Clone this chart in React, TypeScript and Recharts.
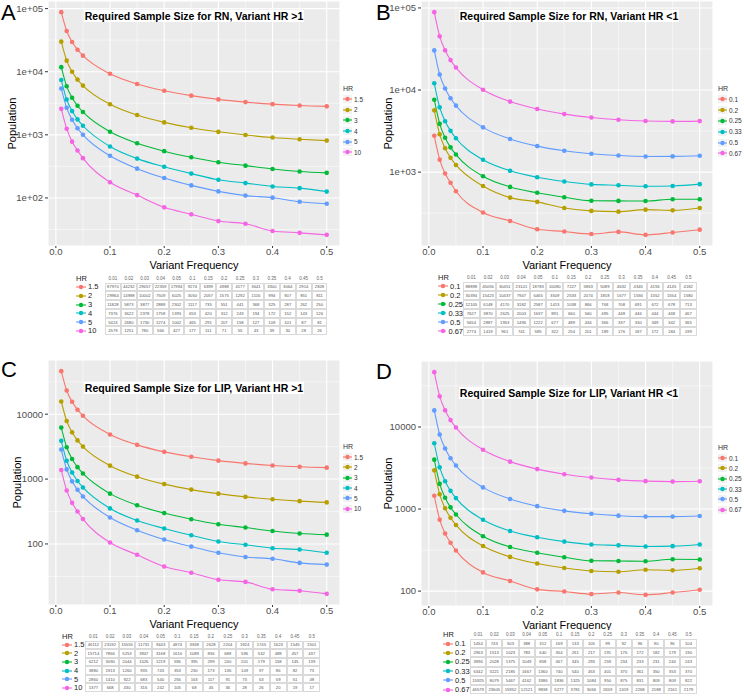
import { LineChart, Line, XAxis, YAxis, CartesianGrid } from "recharts"

const freqs = [0.01, 0.02, 0.03, 0.04, 0.05, 0.1, 0.15, 0.2, 0.25, 0.3, 0.35, 0.4, 0.45, 0.5]
const freqTicks = [0, 0.1, 0.2, 0.3, 0.4, 0.5]
const freqMinor = [0.05, 0.15, 0.25, 0.35, 0.45]
const freqHeader = ["0.01", "0.02", "0.03", "0.04", "0.05", "0.1", "0.15", "0.2", "0.25", "0.3", "0.35", "0.4", "0.45", "0.5"]
const hrHigh = ["1.5", "2", "3", "4", "5", "10"]
const hrLow = ["0.1", "0.2", "0.25", "0.33", "0.5", "0.67"]
const hueColors = ["#F8766D", "#B79F00", "#00BA38", "#00BFC4", "#619CFF", "#F564E3"]

// RN, HR > 1
const rnHigh15 = [87970, 44232, 29657, 22359, 17994, 9274, 6399, 4988, 4177, 3641, 3300, 3064, 2914, 2828]
const rnHigh2 = [29964, 14988, 10002, 7509, 6025, 3050, 2057, 1575, 1292, 1116, 994, 907, 851, 811]
const rnHigh3 = [11828, 5873, 3877, 2888, 2302, 1117, 735, 551, 441, 368, 325, 287, 262, 250]
const rnHigh4 = [7376, 3622, 2378, 1758, 1393, 653, 420, 312, 243, 194, 172, 152, 143, 126]
const rnHigh5 = [5424, 2680, 1730, 1274, 1002, 465, 291, 207, 158, 127, 109, 101, 87, 81]
const rnHigh10 = [2579, 1251, 780, 566, 427, 177, 111, 71, 55, 43, 39, 30, 28, 26]

// RN, HR < 1 (as plotted; the printed table lists them in reverse order)
const rnLow01 = [2774, 1419, 961, 741, 585, 322, 254, 201, 189, 176, 187, 172, 184, 199]
const rnLow02 = [5654, 2887, 1953, 1496, 1222, 677, 489, 434, 366, 337, 330, 349, 342, 365]
const rnLow025 = [7627, 3870, 2625, 2003, 1637, 891, 660, 560, 495, 448, 446, 444, 468, 467]
const rnLow033 = [12105, 6148, 4170, 3182, 2587, 1413, 1038, 866, 768, 708, 691, 672, 678, 713]
const rnLow05 = [30394, 15423, 10437, 7947, 6465, 3509, 2533, 2074, 1818, 1677, 1594, 1552, 1554, 1580]
const rnLow067 = [88898, 45056, 30451, 23141, 18783, 10080, 7227, 5863, 5089, 4632, 4345, 4194, 4145, 4182]

// LIP, HR > 1
const lipHigh15 = [46112, 23192, 15555, 11731, 9443, 4874, 3368, 2628, 2204, 1924, 1745, 1623, 1545, 1501]
const lipHigh2 = [15714, 7866, 5253, 3947, 3168, 1610, 1089, 836, 688, 596, 532, 488, 457, 437]
const lipHigh3 = [6212, 3090, 2044, 1526, 1219, 596, 395, 299, 240, 201, 179, 158, 145, 139]
const lipHigh4 = [3880, 1913, 1260, 935, 743, 353, 230, 173, 136, 109, 97, 86, 82, 73]
const lipHigh5 = [2860, 1410, 922, 683, 540, 256, 163, 117, 91, 73, 63, 59, 51, 48]
const lipHigh10 = [1377, 668, 430, 316, 242, 105, 68, 45, 36, 28, 26, 20, 19, 17]

// LIP, HR < 1
const lipLow01 = [1454, 743, 503, 388, 312, 169, 133, 105, 99, 92, 96, 90, 96, 104]
const lipLow02 = [2963, 1513, 1023, 783, 640, 354, 261, 217, 191, 176, 172, 182, 179, 190]
const lipLow025 = [3996, 2028, 1375, 1049, 858, 467, 345, 293, 259, 234, 233, 231, 244, 243]
const lipLow033 = [6342, 3221, 2185, 1667, 1360, 740, 540, 453, 401, 370, 361, 350, 353, 370]
const lipLow05 = [15925, 8079, 5467, 4162, 3386, 1836, 1325, 1084, 950, 875, 831, 809, 809, 822]
const lipLow067 = [46579, 23605, 15952, 12121, 9838, 5277, 3781, 3066, 2659, 2419, 2268, 2188, 2161, 2179]

const FONT = '"Liberation Sans", Arial, sans-serif'

const sciLabel = (v: number) => "1e+0" + Math.round(Math.log10(v))
const plainLabel = (v: number) => String(v)

const panels = [
  {
    letter: "A", title: "Required Sample Size for RN, Variant HR >1",
    x: 0, y: 0, chartW: 340, yw: 48, yLabOff: 12, fmt: sciLabel,
    labels: hrHigh, series: [rnHigh15, rnHigh2, rnHigh3, rnHigh4, rnHigh5, rnHigh10], tableReversed: false,
    letterY: 0, titleY: 15.5, legX: 343, legY: 84, legStep: 10.6,
    tbl: { x: 76, y: 273.5, labW: 29, cellW: 15.9, rowH: 8.8 },
  },
  {
    letter: "B", title: "Required Sample Size for RN, Variant HR <1",
    x: 375, y: 0, chartW: 338, yw: 46, yLabOff: 13, fmt: sciLabel,
    labels: hrLow, series: [rnLow01, rnLow02, rnLow025, rnLow033, rnLow05, rnLow067], tableReversed: true,
    letterY: 0, titleY: 15.5, legX: 718, legY: 84, legStep: 10.8,
    tbl: { x: 438, y: 272.5, labW: 25, cellW: 16.7, rowH: 9 },
  },
  {
    letter: "C", title: "Required Sample Size for LIP, Variant HR >1",
    x: 0, y: 359, chartW: 340, yw: 48, yLabOff: 17, fmt: plainLabel,
    labels: hrHigh, series: [lipHigh15, lipHigh2, lipHigh3, lipHigh4, lipHigh5, lipHigh10], tableReversed: false,
    letterY: 357, titleY: 388, legX: 343, legY: 442, legStep: 10.3,
    tbl: { x: 62, y: 631.5, labW: 23, cellW: 16.8, rowH: 8.6 },
  },
  {
    letter: "D", title: "Required Sample Size for LIP, Variant HR <1",
    x: 375, y: 360, chartW: 338, yw: 46, yLabOff: 13, fmt: plainLabel,
    labels: hrLow, series: [lipLow01, lipLow02, lipLow025, lipLow033, lipLow05, lipLow067], tableReversed: false,
    letterY: 359, titleY: 393, legX: 718, legY: 443, legStep: 10.3,
    tbl: { x: 443, y: 630, labW: 27, cellW: 16.2, rowH: 9.2 },
  },
]

type PanelCfg = (typeof panels)[number]

function toRows(series: number[][]) {
  return freqs.map((f, i) => {
    const row: Record<string, number> = { f }
    series.forEach((s, j) => (row["s" + j] = s[i]))
    return row
  })
}

function KeyIcon({ color, w = 10, bg = "none" }: { color: string; w?: number; bg?: string }) {
  return (
    <svg width={w} height={8} style={{ display: "block" }}>
      <rect x={0} y={0} width={w} height={8} fill={bg} />
      <line x1={0} y1={4} x2={w} y2={4} stroke={color} strokeWidth={1.1} />
      <circle cx={w / 2} cy={4} r={2.2} fill={color} />
    </svg>
  )
}

function Panel({ cfg }: { cfg: PanelCfg }) {
  const data = toRows(cfg.series)
  const all = cfg.series.flat()
  const lo = Math.log10(Math.min(...all))
  const hi = Math.log10(Math.max(...all))
  const pad = (hi - lo) * 0.05
  const yDomain = [10 ** (lo - pad), 10 ** (hi + pad)]
  const inRange = (v: number) => v > yDomain[0] && v < yDomain[1]
  const yTicks = [100, 1000, 10000, 100000].filter(inRange)
  const yMinor = [1.5, 2.5, 3.5, 4.5].map((e) => 10 ** e).filter(inRange)
  const xPad = (0.5 - 0.01) * 0.05
  const tickStyle = { fontSize: 9.5, fill: "#4D4D4D", fontFamily: FONT }

  return (
    <>
      <div style={{ position: "absolute", left: cfg.x, top: cfg.y }}>
        <LineChart width={cfg.chartW} height={275} data={data} margin={{ top: 1, right: 0, bottom: 0, left: 0 }}>
          <CartesianGrid fill="#EBEBEB" stroke="#FFFFFF" strokeWidth={0.5} horizontalValues={yMinor} verticalValues={freqMinor} />
          <CartesianGrid stroke="#FFFFFF" strokeWidth={1.1} />
          <XAxis
            type="number"
            dataKey="f"
            domain={[0.01 - xPad, 0.5 + xPad]}
            ticks={freqTicks}
            allowDataOverflow
            tickFormatter={(v: number) => v.toFixed(1)}
            axisLine={false}
            tickLine={{ stroke: "#333333" }}
            tickSize={2}
            tickMargin={0}
            tick={tickStyle}
            height={29}
            label={{ value: "Variant Frequency", position: "insideBottom", offset: 6, style: { fontSize: 11, fill: "#000", fontFamily: FONT } }}
          />
          <YAxis
            type="number"
            scale="log"
            domain={yDomain}
            ticks={yTicks}
            allowDataOverflow
            tickFormatter={cfg.fmt}
            axisLine={false}
            tickLine={{ stroke: "#333333" }}
            tickSize={3}
            tickMargin={2}
            tick={tickStyle}
            width={cfg.yw}
            label={{ value: "Population", angle: -90, position: "insideLeft", offset: cfg.yLabOff, style: { textAnchor: "middle", fontSize: 11, fill: "#000", fontFamily: FONT } }}
          />
          {cfg.labels.map((lab, j) => (
            <Line
              key={lab}
              dataKey={"s" + j}
              type="monotone"
              stroke={hueColors[j]}
              strokeWidth={1.1}
              dot={{ r: 2.3, fill: hueColors[j], stroke: hueColors[j], strokeWidth: 0 }}
              isAnimationActive={false}
            />
          ))}
        </LineChart>
      </div>

      {/* panel letter */}
      <div style={{ position: "absolute", left: cfg.x + 1, top: cfg.letterY, fontSize: 22, fontFamily: FONT, lineHeight: "26px" }}>
        {cfg.letter}
      </div>

      {/* title */}
      <div
        style={{
          position: "absolute", left: cfg.x + 194 - 120, width: 240, top: cfg.titleY - 6, height: 12,
          display: "flex", justifyContent: "center", pointerEvents: "none",
        }}
      >
        <span style={{ background: "#FFFFFF", fontFamily: FONT, fontWeight: "bold", fontSize: 10.5, lineHeight: "12px", padding: "0 1px" }}>
          {cfg.title}
        </span>
      </div>

      {/* legend */}
      <div style={{ position: "absolute", left: cfg.legX, top: cfg.legY, fontFamily: FONT, color: "#333" }}>
        <div style={{ fontSize: 7, lineHeight: "10px" }}>HR</div>
        {cfg.labels.map((lab, j) => (
          <div key={lab} style={{ display: "flex", alignItems: "center", height: cfg.legStep }}>
            <KeyIcon color={hueColors[j]} w={9} bg="#F2F2F2" />
            <span style={{ fontSize: 6.5, marginLeft: 2 }}>{lab}</span>
          </div>
        ))}
      </div>

      {/* table */}
      <DataTable cfg={cfg} />
    </>
  )
}

function DataTable({ cfg }: { cfg: PanelCfg }) {
  const t = cfg.tbl
  const rows = cfg.labels.map((lab, j) => ({
    lab,
    color: hueColors[j],
    vals: cfg.tableReversed ? cfg.series[cfg.series.length - 1 - j] : cfg.series[j],
  }))
  return (
    <div style={{ position: "absolute", left: t.x, top: t.y, fontFamily: FONT, background: "#FFFFFF", paddingRight: 2 }}>
      <div style={{ display: "flex", height: 9, alignItems: "center" }}>
        <div style={{ width: t.labW, fontSize: 7.5, color: "#222" }}>HR</div>
        {freqHeader.map((h) => (
          <div key={h} style={{ width: t.cellW, textAlign: "center", fontSize: 4.5, color: "#666" }}>{h}</div>
        ))}
      </div>
      {rows.map((r) => (
        <div key={r.lab} style={{ display: "flex", height: t.rowH, alignItems: "center" }}>
          <div style={{ width: t.labW, display: "flex", alignItems: "center" }}>
            <KeyIcon color={r.color} w={10} />
            <span style={{ fontSize: 7.5, marginLeft: 2, color: "#222" }}>{r.lab}</span>
          </div>
          {r.vals.map((v, i) => (
            <div
              key={i}
              style={{
                width: t.cellW, height: t.rowH, boxSizing: "border-box", border: "0.5px solid #DADADA",
                fontSize: 4.2, color: "#555", display: "flex", alignItems: "center", justifyContent: "center",
              }}
            >
              {v}
            </div>
          ))}
        </div>
      ))}
    </div>
  )
}

export default function App() {
  return (
    <div style={{ position: "absolute", left: 0, top: 0, width: 744, height: 697, background: "#FFFFFF", overflow: "hidden" }}>
      {panels.map((p) => (
        <Panel key={p.letter} cfg={p} />
      ))}
    </div>
  )
}
